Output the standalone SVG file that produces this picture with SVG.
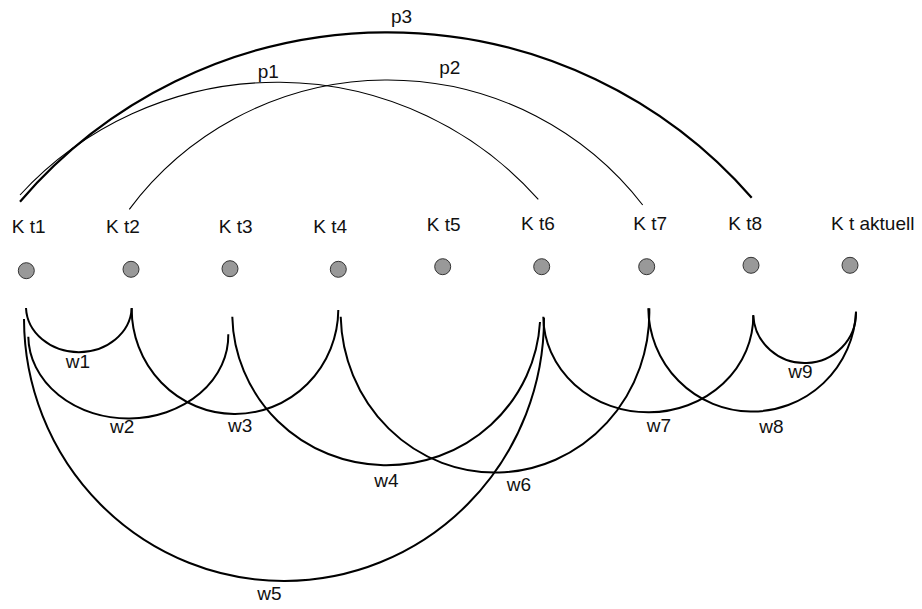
<svg xmlns="http://www.w3.org/2000/svg" width="922" height="609" viewBox="0 0 922 609">
<style>
  text { font-family: "Liberation Sans", Arial, sans-serif; font-size: 19px; fill: #111; }
  .dot { fill: #999999; stroke: #333333; stroke-width: 1; }
  .thin { fill: none; stroke: #000; stroke-width: 1.1; }
  .thick { fill: none; stroke: #000; stroke-width: 2.2; }
  .w { fill: none; stroke: #000; stroke-width: 2; }
</style>
<rect width="922" height="609" fill="#fff"/>
<g id="connectors">
  <g id="p3"><path class="thick" d="M20,201.7 A483.5,483.5 0 0 1 751.7,197.7"/><text x="391" y="23">p3</text></g>
  <g id="p1"><path class="thin" d="M20,195 A349.8,349.8 0 0 1 538.3,199.3"/><text x="257.7" y="78">p1</text></g>
  <g id="p2"><path class="thin" d="M129.3,209.3 A322.7,322.7 0 0 1 642.7,205"/><text x="439.3" y="74">p2</text></g>
  <g id="w1"><path class="w" d="M26,308 A52.9,46 0 0 0 131.7,308.3"/><text x="65.7" y="367.7">w1</text></g>
  <g id="w2"><path class="w" d="M28.3,336.7 A100,83 0 0 0 228.3,334.3"/><text x="110" y="433">w2</text></g>
  <g id="w3"><path class="w" d="M131.7,308 A103.3,105 0 0 0 338.3,310"/><text x="228" y="431.5">w3</text></g>
  <g id="w4"><path class="w" d="M232.3,316.7 A154,152 0 0 0 540,322"/><text x="374.3" y="487.3">w4</text></g>
  <g id="w5"><path class="w" d="M24,319 A260,262.6 0 0 0 544,317.7"/><text x="257.3" y="600">w5</text></g>
  <g id="w6"><path class="w" d="M340.7,316.7 A154.3,160 0 0 0 649.3,308.3"/><text x="506.7" y="491">w6</text></g>
  <g id="w7"><path class="w" d="M543.3,316.7 A105,96.5 0 0 0 753.3,315"/><text x="646.7" y="431.7">w7</text></g>
  <g id="w8"><path class="w" d="M648.3,308.3 A103.9,104.3 0 0 0 856,311.7"/><text x="759.3" y="433.3">w8</text></g>
  <g id="w9"><path class="w" d="M753.3,315.7 A51.4,50.3 0 0 0 856,311.7"/><text x="788.3" y="378.3">w9</text></g>
</g>
<g id="t1"><text x="11.7" y="233">K t1</text><circle class="dot" cx="26.3" cy="270.7" r="8"/></g>
<g id="t2"><text x="106" y="233">K t2</text><circle class="dot" cx="131" cy="269.3" r="8"/></g>
<g id="t3"><text x="218.7" y="233">K t3</text><circle class="dot" cx="230" cy="268.7" r="8"/></g>
<g id="t4"><text x="313.3" y="233">K t4</text><circle class="dot" cx="338.3" cy="269.3" r="8"/></g>
<g id="t5"><text x="426.7" y="230.7">K t5</text><circle class="dot" cx="442.7" cy="266.7" r="8"/></g>
<g id="t6"><text x="521" y="230">K t6</text><circle class="dot" cx="541.7" cy="266.7" r="8"/></g>
<g id="t7"><text x="633.3" y="230">K t7</text><circle class="dot" cx="646.7" cy="266.7" r="8"/></g>
<g id="t8"><text x="728.3" y="230">K t8</text><circle class="dot" cx="751" cy="265.3" r="8"/></g>
<g id="taktuell"><text x="831" y="230">K t aktuell</text><circle class="dot" cx="850" cy="265.3" r="8"/></g>
</svg>
